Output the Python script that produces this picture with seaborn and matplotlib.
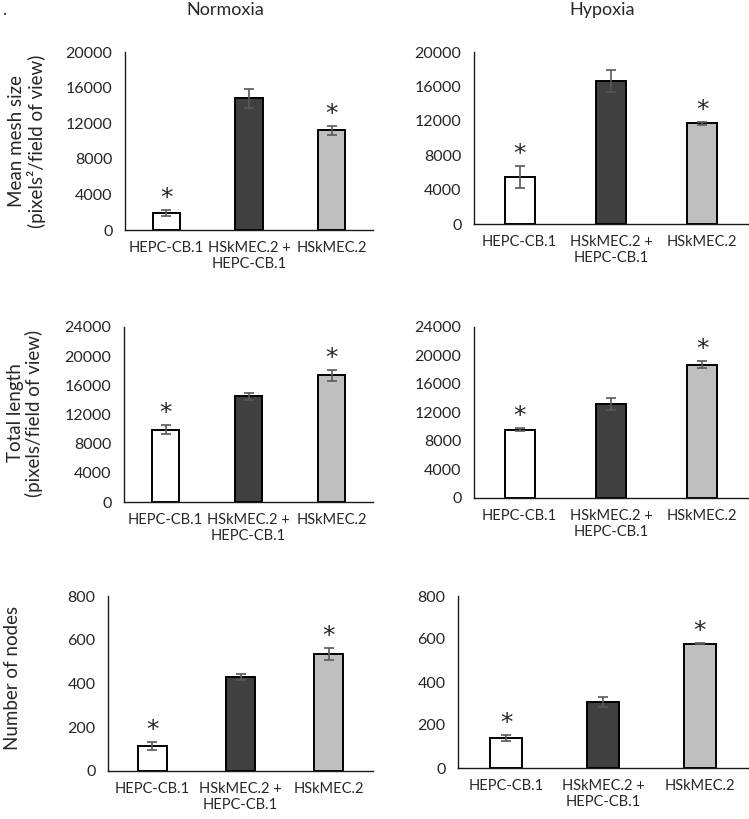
import numpy as np
import matplotlib
matplotlib.use("Agg")
import matplotlib.pyplot as plt
import seaborn as sns
import pandas as pd

sns.set_style("white")
plt.rcParams['font.family'] = ['Lato', 'DejaVu Sans']

# data
groups = ["HEPC-CB.1", "HSkMEC.2 +\nHEPC-CB.1", "HSkMEC.2"]
bar_colors = ["#ffffff", "#404040", "#bfbfbf"]

mesh_normoxia = [1900, 14800, 11200]
mesh_normoxia_err = [350, 1050, 500]
mesh_hypoxia = [5500, 16600, 11700]
mesh_hypoxia_err = [1300, 1250, 150]

length_normoxia = [9900, 14500, 17400]
length_normoxia_err = [600, 450, 750]
length_hypoxia = [9600, 13200, 18700]
length_hypoxia_err = [230, 900, 500]

nodes_normoxia = [115, 430, 535]
nodes_normoxia_err = [17, 15, 26]
nodes_hypoxia = [140, 307, 578]
nodes_hypoxia_err = [13, 23, 2]

# significance stars per bar
stars = [True, False, True]

W, H = 749, 819
TXT = "#262626"


def make_axes(fig, x0, x1, ytop, ybot):
    return fig.add_axes([x0 / W, 1 - ybot / H, (x1 - x0) / W, (ybot - ytop) / H])


def draw_panel(ax, vals, errs, ymax, step):
    df = pd.DataFrame({"group": groups, "value": vals})
    sns.barplot(data=df, x="group", y="value", hue="group", palette=bar_colors,
                edgecolor="black", linewidth=1.4, width=0.33, legend=False, ax=ax)
    ax.errorbar(range(len(groups)), vals, yerr=errs, fmt="none",
                ecolor="#595959", elinewidth=1.2, capsize=3.5, capthick=1.2)
    for i, (v, e) in enumerate(zip(vals, errs)):
        if stars[i]:
            ax.annotate("*", (i, v + e), xytext=(0, 0), textcoords="offset points",
                        ha="center", va="bottom", fontsize=18, color=TXT,
                        family="DejaVu Sans")
    ax.set_ylim(0, ymax)
    ax.set_xlim(-0.5, 2.5)
    ax.set_yticks(np.arange(0, ymax + 1, step))
    ax.tick_params(axis="both", length=0, colors=TXT)
    ax.tick_params(axis="x", pad=8, labelsize=10.5)
    ax.tick_params(axis="y", pad=9, labelsize=11.5)
    for lab in ax.get_xticklabels():
        lab.set_linespacing(1.15)
    ax.set_xlabel("")
    ax.set_ylabel("")
    sns.despine(ax=ax)
    for s in ["left", "bottom"]:
        ax.spines[s].set_color("#1a1a1a")
        ax.spines[s].set_linewidth(1.0)


fig = plt.figure(figsize=(W / 100, H / 100), dpi=100)

ax1 = make_axes(fig, 125, 373, 52, 230)
draw_panel(ax1, mesh_normoxia, mesh_normoxia_err, 20000, 4000)
ax2 = make_axes(fig, 474, 748, 52, 224)
draw_panel(ax2, mesh_hypoxia, mesh_hypoxia_err, 20000, 4000)
ax3 = make_axes(fig, 124, 373, 327, 502)
draw_panel(ax3, length_normoxia, length_normoxia_err, 24000, 4000)
ax4 = make_axes(fig, 474, 748, 327, 498)
draw_panel(ax4, length_hypoxia, length_hypoxia_err, 24000, 4000)
ax5 = make_axes(fig, 108, 373, 596, 771)
draw_panel(ax5, nodes_normoxia, nodes_normoxia_err, 800, 200)
ax6 = make_axes(fig, 458, 748, 596, 768)
draw_panel(ax6, nodes_hypoxia, nodes_hypoxia_err, 800, 200)

fig.text(225 / W, 1 - 10 / H, "Normoxia", ha="center", va="center", fontsize=13, color=TXT)
fig.text(602 / W, 1 - 10 / H, "Hypoxia", ha="center", va="center", fontsize=13, color=TXT)
fig.text(2 / W, 1 - 10 / H, ".", ha="left", va="center", fontsize=12, color=TXT)

ylab_kw = dict(rotation=90, ha="center", va="center", fontsize=13.5, color=TXT,
               multialignment="center", linespacing=1.1)
fig.text(27 / W, 1 - 141 / H, "Mean mesh size\n(pixels²/field of view)", **ylab_kw)
fig.text(25 / W, 1 - 413 / H, "Total length\n(pixels/field of view)", **ylab_kw)
fig.text(12 / W, 1 - 678 / H, "Number of nodes", **ylab_kw)

fig.savefig("out.png", dpi=100)
